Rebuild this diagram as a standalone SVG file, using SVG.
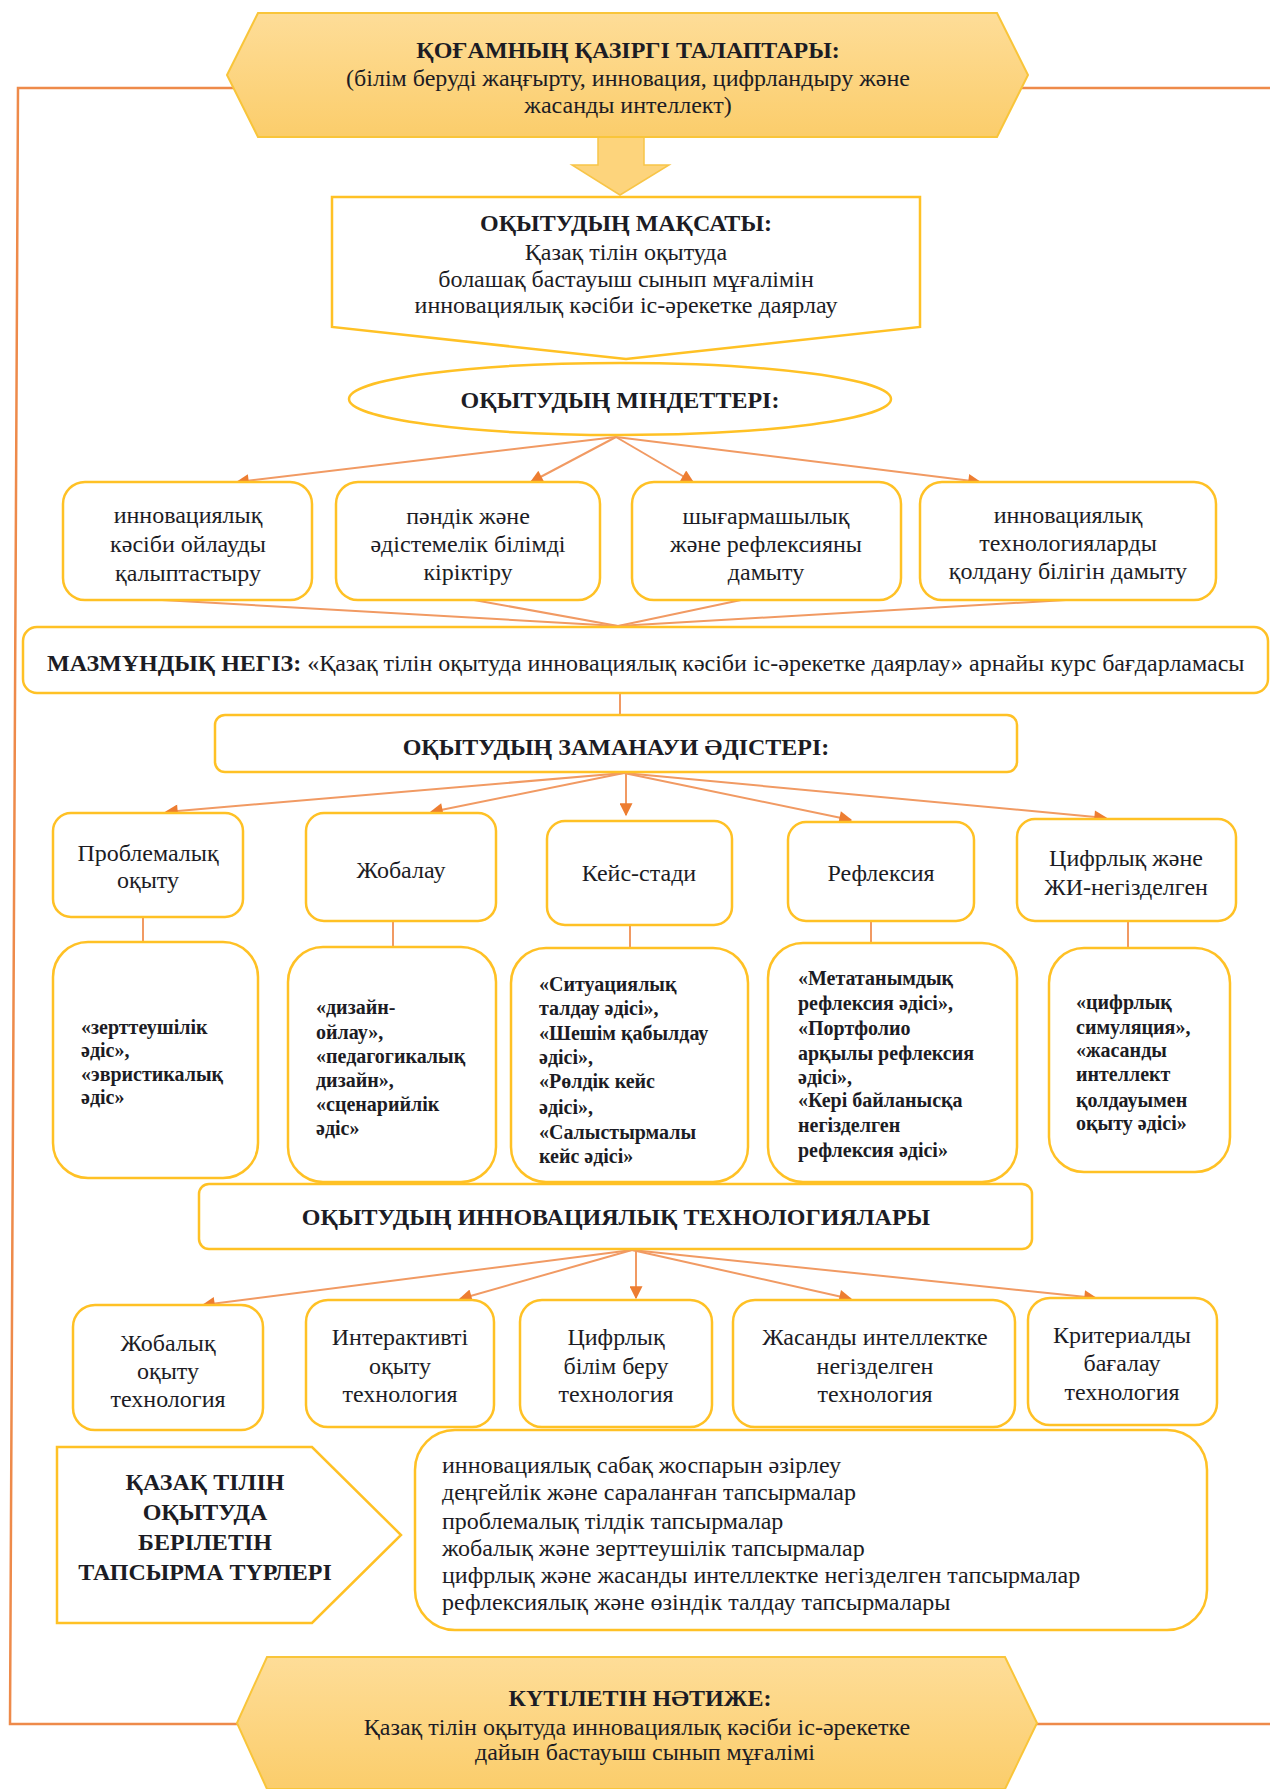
<svg xmlns="http://www.w3.org/2000/svg" width="1270" height="1789" viewBox="0 0 1270 1789">
<style>
text{font-family:"Liberation Serif","DejaVu Serif",serif;fill:#1c1c24;dominant-baseline:central}
.c{text-anchor:middle}
.b{font-weight:bold}
.f22{font-size:24px}
.f19{font-size:20px;font-weight:bold}
.box{fill:#fff;stroke:#FFC125;stroke-width:2.5}
.hex{fill:url(#g);stroke:#F9C53A;stroke-width:2}
.con{stroke:#F19A63;stroke-width:2;fill:none}
.conA{stroke:#F19A63;stroke-width:2;fill:none;marker-end:url(#ah)}
.loop{stroke:#EE8A4A;stroke-width:2.5;fill:none}
</style>
<defs>
<linearGradient id="g" x1="0" y1="0" x2="0" y2="1">
<stop offset="0" stop-color="#FEDD98"/>
<stop offset="1" stop-color="#FBCD6B"/>
</linearGradient>
<marker id="ah" viewBox="0 0 10 10" refX="9" refY="5" markerWidth="14" markerHeight="13" markerUnits="userSpaceOnUse" orient="auto">
<path d="M0,0 L10,5 L0,10 z" fill="#ED7D31"/>
</marker>
</defs>

<g id="loop">
<path class="loop" d="M1270,88 H18 L10,1724 H1270"/>
</g>

<g id="connectors">
<polygon points="598,135 644,135 644,165 669,165 620,195 572,165 598,165" fill="#FDD47C" stroke="#F8C548" stroke-width="1.5"/>
<line class="conA" x1="616" y1="437" x2="237" y2="482"/>
<line class="conA" x1="616" y1="437" x2="531" y2="482"/>
<line class="conA" x1="616" y1="437" x2="693" y2="482"/>
<line class="conA" x1="616" y1="437" x2="980" y2="482"/>
<line class="con" x1="162" y1="600" x2="618" y2="626"/>
<line class="con" x1="474" y1="600" x2="618" y2="626"/>
<line class="con" x1="741" y1="600" x2="618" y2="626"/>
<line class="con" x1="1066" y1="600" x2="618" y2="626"/>
<line class="con" x1="620" y1="693" x2="620" y2="715"/>
<line class="conA" x1="624" y1="773" x2="166" y2="812"/>
<line class="conA" x1="624" y1="773" x2="431" y2="812"/>
<line class="conA" x1="626" y1="773" x2="626" y2="815"/>
<line class="conA" x1="624" y1="773" x2="851" y2="820"/>
<line class="conA" x1="624" y1="773" x2="1106" y2="818"/>
<line class="con" x1="143" y1="917" x2="143" y2="943"/>
<line class="con" x1="393" y1="921" x2="393" y2="947"/>
<line class="con" x1="630" y1="925" x2="630" y2="948"/>
<line class="con" x1="871" y1="921" x2="871" y2="943"/>
<line class="con" x1="1128" y1="921" x2="1128" y2="948"/>
<line class="conA" x1="632" y1="1250" x2="203" y2="1305"/>
<line class="conA" x1="632" y1="1250" x2="460" y2="1299"/>
<line class="conA" x1="636" y1="1250" x2="636" y2="1298"/>
<line class="conA" x1="632" y1="1250" x2="851" y2="1299"/>
<line class="conA" x1="632" y1="1250" x2="1096" y2="1298"/>
</g>

<g id="demands">
<polygon class="hex" points="258,13 997,13 1028,75 997,137 258,137 227,75"/>
<text class="c b f22" x="628" y="50">ҚОҒАМНЫҢ ҚАЗІРГІ ТАЛАПТАРЫ:</text>
<text class="c f22" x="628" y="78">(білім беруді жаңғырту, инновация, цифрландыру және</text>
<text class="c f22" x="628" y="105">жасанды интеллект)</text>
</g>

<g id="goal">
<polygon class="box" points="332,197 920,197 920,327 626,359 332,327"/>
<text class="c b f22" x="626" y="223">ОҚЫТУДЫҢ МАҚСАТЫ:</text>
<text class="c f22" x="626" y="252">Қазақ тілін оқытуда</text>
<text class="c f22" x="626" y="279">болашақ бастауыш сынып мұғалімін</text>
<text class="c f22" x="626" y="305">инновациялық кәсіби іс-әрекетке даярлау</text>
</g>

<g id="tasks">
<ellipse class="box" cx="620" cy="399" rx="271" ry="36"/>
<text class="c b f22" x="620" y="400">ОҚЫТУДЫҢ МІНДЕТТЕРІ:</text>
</g>

<g id="task1">
<rect class="box" x="63" y="482" width="249" height="118" rx="22"/>
<text class="c f22" x="188" y="515">инновациялық</text>
<text class="c f22" x="188" y="544">кәсіби ойлауды</text>
<text class="c f22" x="188" y="573">қалыптастыру</text>
</g>
<g id="task2">
<rect class="box" x="336" y="482" width="264" height="118" rx="22"/>
<text class="c f22" x="468" y="516">пәндік және</text>
<text class="c f22" x="468" y="544">әдістемелік білімді</text>
<text class="c f22" x="468" y="572">кіріктіру</text>
</g>
<g id="task3">
<rect class="box" x="632" y="482" width="269" height="118" rx="22"/>
<text class="c f22" x="766" y="516">шығармашылық</text>
<text class="c f22" x="766" y="544">және рефлексияны</text>
<text class="c f22" x="766" y="572">дамыту</text>
</g>
<g id="task4">
<rect class="box" x="920" y="482" width="296" height="118" rx="22"/>
<text class="c f22" x="1068" y="515">инновациялық</text>
<text class="c f22" x="1068" y="543">технологияларды</text>
<text class="c f22" x="1068" y="571">қолдану білігін дамыту</text>
</g>

<g id="content">
<rect class="box" x="23" y="627" width="1245" height="66" rx="14"/>
<text class="f22" x="47" y="663"><tspan class="b">МАЗМҰНДЫҚ НЕГІЗ:</tspan> «Қазақ тілін оқытуда инновациялық кәсіби іс-әрекетке даярлау» арнайы курс бағдарламасы</text>
</g>

<g id="methods">
<rect class="box" x="215" y="715" width="802" height="57" rx="10"/>
<text class="c b f22" x="616" y="747">ОҚЫТУДЫҢ ЗАМАНАУИ ӘДІСТЕРІ:</text>
</g>

<g id="m1">
<rect class="box" x="53" y="813" width="190" height="104" rx="18"/>
<text class="c f22" x="148" y="853">Проблемалық</text>
<text class="c f22" x="148" y="880">оқыту</text>
</g>
<g id="m2">
<rect class="box" x="306" y="813" width="190" height="108" rx="18"/>
<text class="c f22" x="401" y="870">Жобалау</text>
</g>
<g id="m3">
<rect class="box" x="547" y="821" width="185" height="104" rx="18"/>
<text class="c f22" x="639" y="873">Кейс-стади</text>
</g>
<g id="m4">
<rect class="box" x="788" y="822" width="186" height="99" rx="18"/>
<text class="c f22" x="881" y="873">Рефлексия</text>
</g>
<g id="m5">
<rect class="box" x="1017" y="819" width="219" height="102" rx="18"/>
<text class="c f22" x="1126" y="858">Цифрлық және</text>
<text class="c f22" x="1126" y="887">ЖИ-негізделген</text>
</g>

<g id="d1">
<rect class="box" x="53" y="942" width="205" height="236" rx="35"/>
<text class="f19" x="81" y="1027">«зерттеушілік</text>
<text class="f19" x="81" y="1050">әдіс»,</text>
<text class="f19" x="81" y="1074">«эвристикалық</text>
<text class="f19" x="81" y="1097">әдіс»</text>
</g>
<g id="d2">
<rect class="box" x="288" y="947" width="208" height="235" rx="35"/>
<text class="f19" x="316" y="1007">«дизайн-</text>
<text class="f19" x="316" y="1032">ойлау»,</text>
<text class="f19" x="316" y="1056">«педагогикалық</text>
<text class="f19" x="316" y="1080">дизайн»,</text>
<text class="f19" x="316" y="1104">«сценарийлік</text>
<text class="f19" x="316" y="1128">әдіс»</text>
</g>
<g id="d3">
<rect class="box" x="511" y="948" width="237" height="234" rx="35"/>
<text class="f19" x="539" y="984">«Ситуациялық</text>
<text class="f19" x="539" y="1008">талдау әдісі»,</text>
<text class="f19" x="539" y="1033">«Шешім қабылдау</text>
<text class="f19" x="539" y="1057">әдісі»,</text>
<text class="f19" x="539" y="1081">«Рөлдік кейс</text>
<text class="f19" x="539" y="1107">әдісі»,</text>
<text class="f19" x="539" y="1132">«Салыстырмалы</text>
<text class="f19" x="539" y="1156">кейс әдісі»</text>
</g>
<g id="d4">
<rect class="box" x="768" y="943" width="249" height="239" rx="35"/>
<text class="f19" x="798" y="978">«Метатанымдық</text>
<text class="f19" x="798" y="1003">рефлексия әдісі»,</text>
<text class="f19" x="798" y="1028">«Портфолио</text>
<text class="f19" x="798" y="1053">арқылы рефлексия</text>
<text class="f19" x="798" y="1077">әдісі»,</text>
<text class="f19" x="798" y="1100">«Кері байланысқа</text>
<text class="f19" x="798" y="1125">негізделген</text>
<text class="f19" x="798" y="1150">рефлексия әдісі»</text>
</g>
<g id="d5">
<rect class="box" x="1049" y="948" width="181" height="224" rx="35"/>
<text class="f19" x="1076" y="1002">«цифрлық</text>
<text class="f19" x="1076" y="1027">симуляция»,</text>
<text class="f19" x="1076" y="1050">«жасанды</text>
<text class="f19" x="1076" y="1074">интеллект</text>
<text class="f19" x="1076" y="1100">қолдауымен</text>
<text class="f19" x="1076" y="1123">оқыту әдісі»</text>
</g>

<g id="tech">
<rect class="box" x="199" y="1184" width="833" height="65" rx="10"/>
<text class="c b f22" x="616" y="1217">ОҚЫТУДЫҢ ИННОВАЦИЯЛЫҚ ТЕХНОЛОГИЯЛАРЫ</text>
</g>

<g id="t1">
<rect class="box" x="73" y="1305" width="190" height="125" rx="22"/>
<text class="c f22" x="168" y="1343">Жобалық</text>
<text class="c f22" x="168" y="1371">оқыту</text>
<text class="c f22" x="168" y="1399">технология</text>
</g>
<g id="t2">
<rect class="box" x="306" y="1300" width="188" height="127" rx="22"/>
<text class="c f22" x="400" y="1337">Интерактивті</text>
<text class="c f22" x="400" y="1366">оқыту</text>
<text class="c f22" x="400" y="1394">технология</text>
</g>
<g id="t3">
<rect class="box" x="520" y="1300" width="192" height="127" rx="22"/>
<text class="c f22" x="616" y="1337">Цифрлық</text>
<text class="c f22" x="616" y="1366">білім беру</text>
<text class="c f22" x="616" y="1394">технология</text>
</g>
<g id="t4">
<rect class="box" x="733" y="1300" width="282" height="127" rx="22"/>
<text class="c f22" x="875" y="1337">Жасанды интеллектке</text>
<text class="c f22" x="875" y="1366">негізделген</text>
<text class="c f22" x="875" y="1394">технология</text>
</g>
<g id="t5">
<rect class="box" x="1028" y="1298" width="189" height="127" rx="22"/>
<text class="c f22" x="1122" y="1335">Критериалды</text>
<text class="c f22" x="1122" y="1363">бағалау</text>
<text class="c f22" x="1122" y="1392">технология</text>
</g>

<g id="tasktypes">
<polygon class="box" points="57,1447 312,1447 401,1535 312,1623 57,1623"/>
<text class="c b f22" x="205" y="1482">ҚАЗАҚ ТІЛІН</text>
<text class="c b f22" x="205" y="1512">ОҚЫТУДА</text>
<text class="c b f22" x="205" y="1542">БЕРІЛЕТІН</text>
<text class="c b f22" x="205" y="1572">ТАПСЫРМА ТҮРЛЕРІ</text>
</g>

<g id="tasklist">
<rect class="box" x="415" y="1430" width="792" height="200" rx="40"/>
<text class="f22" x="442" y="1465">инновациялық сабақ жоспарын әзірлеу</text>
<text class="f22" x="442" y="1492">деңгейлік және сараланған тапсырмалар</text>
<text class="f22" x="442" y="1521">проблемалық тілдік тапсырмалар</text>
<text class="f22" x="442" y="1548">жобалық және зерттеушілік тапсырмалар</text>
<text class="f22" x="442" y="1575">цифрлық және жасанды интеллектке негізделген тапсырмалар</text>
<text class="f22" x="442" y="1602">рефлексиялық және өзіндік талдау тапсырмалары</text>
</g>

<g id="result">
<polygon class="hex" points="267,1657 1005,1657 1037,1723 1005,1789 267,1789 237,1723"/>
<text class="c b f22" x="640" y="1698">КҮТІЛЕТІН НӘТИЖЕ:</text>
<text class="c f22" x="637" y="1727">Қазақ тілін оқытуда инновациялық кәсіби іс-әрекетке</text>
<text class="c f22" x="645" y="1752">дайын бастауыш сынып мұғалімі</text>
</g>
</svg>
